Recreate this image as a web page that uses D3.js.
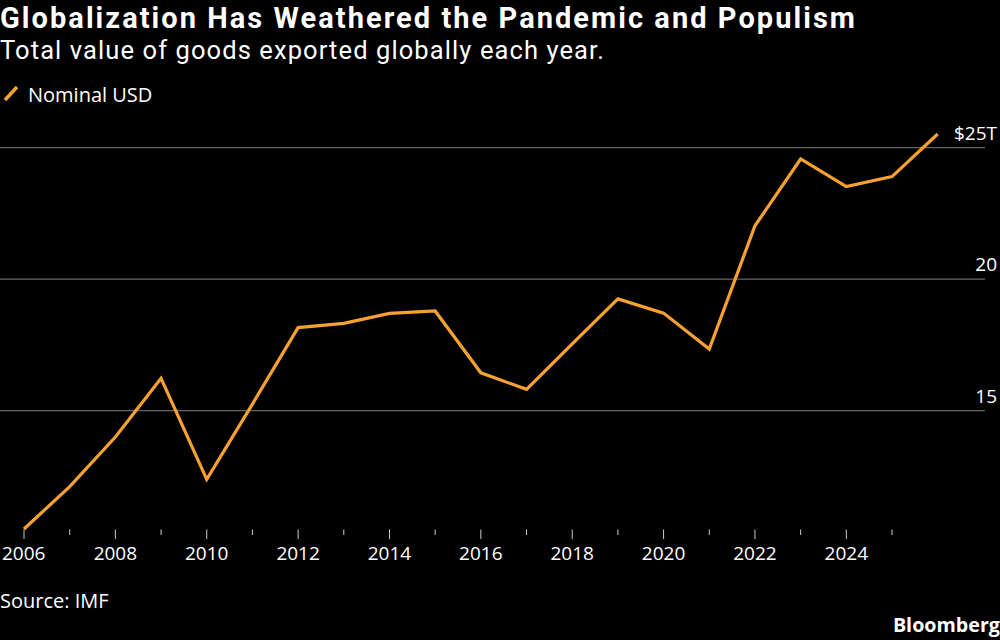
<!DOCTYPE html>
<html>
<head>
    <meta charset="utf-8">
    <script src="https://d3js.org/d3.v7.min.js"></script>
    <style>
        body, html {
            margin: 0;
            background: #000;
            overflow: hidden;
        }
        text {
            font-family: "Open Sans", "DejaVu Sans", sans-serif;
            fill: #fff;
        }
        .head {
            font-family: Roboto, "Open Sans", sans-serif;
        }
    </style>
</head>
<body>
<div id="chart"></div>
<script>
    // Total value of goods exported, trillion USD
    const years = [2006, 2007, 2008, 2009, 2010, 2011, 2012, 2013, 2014, 2015,
                   2016, 2017, 2018, 2019, 2020, 2021, 2022, 2023, 2024, 2025, 2026];
    const exportsUSD = [10.50, 12.11, 14.00, 16.23, 12.39, 15.25, 18.16, 18.32, 18.70, 18.79,
                        16.44, 15.81, 17.54, 19.25, 18.71, 17.34, 22.03, 24.57, 23.52, 23.90, 25.52];
    const yTicks = [15, 20, 25];
    const xLabelYears = [2006, 2008, 2010, 2012, 2014, 2016, 2018, 2020, 2022, 2024];

    const width = 1000, height = 640;
    const lineColor = "#f7a130";

    const svg = d3.select("#chart")
                  .append("svg")
                  .attr("width", width)
                  .attr("height", height);

    const x = d3.scaleLinear().domain([2006, 2026]).range([24, 937.7]);
    const y = d3.scaleLinear().domain([10.5, 26]).range([529, 121.4]);

    // Title block
    svg.append("text")
       .attr("class", "head")
       .attr("x", 0).attr("y", 27.5)
       .attr("textLength", 855)
       .attr("lengthAdjust", "spacing")
       .style("font-size", "29px")
       .style("font-weight", "bold")
       .text("Globalization Has Weathered the Pandemic and Populism");

    svg.append("text")
       .attr("class", "head")
       .attr("x", 0).attr("y", 59)
       .attr("textLength", 604)
       .attr("lengthAdjust", "spacing")
       .style("font-size", "25.5px")
       .text("Total value of goods exported globally each year.");

    // Legend
    svg.append("line")
       .attr("x1", 5).attr("y1", 100)
       .attr("x2", 17).attr("y2", 87)
       .attr("stroke", lineColor)
       .attr("stroke-width", 3.5);
    svg.append("text")
       .attr("x", 28).attr("y", 102)
       .style("font-size", "20px")
       .text("Nominal USD");

    // Gridlines + right labels
    const grid = svg.append("g");
    grid.selectAll("line")
        .data(yTicks)
        .join("line")
        .attr("x1", 0).attr("x2", 985)
        .attr("y1", d => y(d)).attr("y2", d => y(d))
        .attr("stroke", "#666")
        .attr("stroke-width", 1.3);
    grid.selectAll("text")
        .data(yTicks)
        .join("text")
        .attr("x", 997)
        .attr("y", d => y(d) - 8)
        .attr("text-anchor", "end")
        .style("font-size", "19px")
        .text(d => d === 25 ? "$25T" : d);

    // X axis ticks
    const xAxis = svg.append("g");
    xAxis.selectAll("line")
         .data(years.slice(0, -1))
         .join("line")
         .attr("x1", d => x(d)).attr("x2", d => x(d))
         .attr("y1", 529.5)
         .attr("y2", d => d % 2 === 0 ? 539 : 535)
         .attr("stroke", "#ccc")
         .attr("stroke-width", 1);
    xAxis.selectAll("text")
         .data(xLabelYears)
         .join("text")
         .attr("x", d => x(d))
         .attr("y", 560)
         .attr("text-anchor", (d, i) => i === 0 ? "start" : "middle")
         .attr("dx", (d, i) => i === 0 ? -22 : 0)
         .style("font-size", "19px")
         .text(d => d);

    // Series line
    const line = d3.line()
                   .x(d => x(d[0]))
                   .y(d => y(d[1]));
    svg.append("path")
       .datum(d3.zip(years, exportsUSD))
       .attr("fill", "none")
       .attr("stroke", lineColor)
       .attr("stroke-width", 3.2)
       .attr("stroke-linejoin", "miter")
       .attr("d", line);

    // Footer
    svg.append("text")
       .attr("x", 0).attr("y", 608)
       .style("font-size", "20px")
       .text("Source: IMF");
    svg.append("text")
       .attr("x", 1000).attr("y", 632)
       .attr("text-anchor", "end")
       .style("font-size", "19.7px")
       .style("font-weight", "bold")
       .text("Bloomberg");
</script>
</body>
</html>
